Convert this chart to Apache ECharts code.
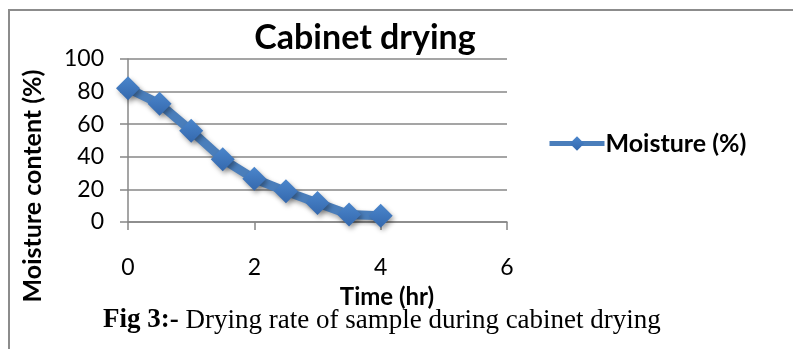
<!DOCTYPE html>
<html>
<head>
<meta charset="utf-8">
<script src="https://cdn.jsdelivr.net/npm/echarts@6/dist/echarts.min.js"></script>
<style>
html,body{margin:0;padding:0;background:#fff;}
#c{width:793px;height:349px;}
</style>
</head>
<body>
<div id="c"></div>
<script>
const timeHr = [0, 0.5, 1, 1.5, 2, 2.5, 3, 3.5, 4];
const moisture = [82, 72.5, 56, 38.5, 26.5, 18.8, 11.6, 4.6, 3.8];
const xTicks = [0, 2, 4, 6];
const yTicks = [0, 20, 40, 60, 80, 100];
const seriesName = 'Moisture (%)';
const chartTitle = 'Cabinet drying';
const xTitle = 'Time (hr)';
const yTitle = 'Moisture content (%)';
const captionBold = 'Fig 3:-';
const captionText = ' Drying rate of sample during cabinet drying';

const font = 'Lato, "Open Sans", sans-serif';
const gridColor = '#878787';
const chart = echarts.init(document.getElementById('c'), null, {renderer: 'canvas'});
chart.setOption({
  animation: false,
  backgroundColor: '#fff',
  title: {
    text: chartTitle,
    left: 360, top: 16, textAlign: 'center',
    textStyle: {fontFamily: font, fontWeight: 'bold', fontSize: 34, color: '#000'}
  },
  legend: {
    left: 542, top: 126,
    itemWidth: 55, itemHeight: 18, itemGap: 0,
    lineStyle: {width: 5},
    textStyle: {fontFamily: font, fontWeight: 'bold', fontSize: 25, color: '#000', padding: [0,0,0,-4]},
    data: [seriesName]
  },
  grid: {left: 128, right: 286, top: 59, bottom: 127, containLabel: false},
  xAxis: {
    type: 'value', min: xTicks[0], max: xTicks[xTicks.length-1], interval: 2,
    axisLine: {show: true, onZero: false, lineStyle: {color: gridColor, width: 1.5}},
    axisTick: {show: true, length: 8, lineStyle: {color: gridColor, width: 1.5}},
    axisLabel: {margin: 34, fontFamily: font, fontSize: 23, color: '#000'},
    splitLine: {show: false}
  },
  yAxis: {
    type: 'value', min: yTicks[0], max: yTicks[yTicks.length-1], interval: 20,
    axisLine: {show: true, lineStyle: {color: gridColor, width: 1.5}},
    axisTick: {show: true, length: 8, lineStyle: {color: gridColor, width: 1.5}},
    axisLabel: {margin: 24, fontFamily: font, fontSize: 23, color: '#000'},
    splitLine: {show: true, lineStyle: {color: gridColor, width: 1.5}}
  },
  series: [{
    name: seriesName,
    type: 'line',
    data: timeHr.map((t, i) => [t, moisture[i]]),
    symbol: 'diamond', symbolSize: 24,
    lineStyle: {color: '#4a7ebb', width: 9, shadowBlur: 5, shadowColor: 'rgba(0,0,0,0.35)', shadowOffsetX: 2, shadowOffsetY: 3},
    itemStyle: {
      color: new echarts.graphic.LinearGradient(0, 0, 0, 1, [{offset: 0, color: '#4b86cc'}, {offset: 1, color: '#3468ad'}]),
      borderWidth: 0,
      shadowBlur: 5, shadowColor: 'rgba(0,0,0,0.35)', shadowOffsetX: 2, shadowOffsetY: 3
    },
    emphasis: {disabled: true}
  }],
  graphic: [
    {type: 'rect', shape: {x: 9, y: 10, width: 900, height: 500}, style: {fill: 'none', stroke: '#8c8c8c', lineWidth: 2}, silent: true, z: -1},
    {type: 'text', x: 387, y: 297, style: {
      text: xTitle, align: 'center', verticalAlign: 'middle',
      font: 'bold 24px Lato, sans-serif', fill: '#000'
    }},
    {type: 'text', x: 33, y: 186, rotation: Math.PI / 2, style: {
      text: yTitle, align: 'center', verticalAlign: 'middle',
      font: 'bold 25px Lato, sans-serif', fill: '#000'
    }},
    {type: 'text', left: 103, top: 307, style: {
      text: '{b|' + captionBold + '}{n|' + captionText + '}',
      rich: {
        b: {fontFamily: '"Liberation Serif", serif', fontWeight: 'bold', fontSize: 27, fill: '#000'},
        n: {fontFamily: '"Liberation Serif", serif', fontSize: 27, fill: '#000'}
      }
    }}
  ]
});
</script>
</body>
</html>
